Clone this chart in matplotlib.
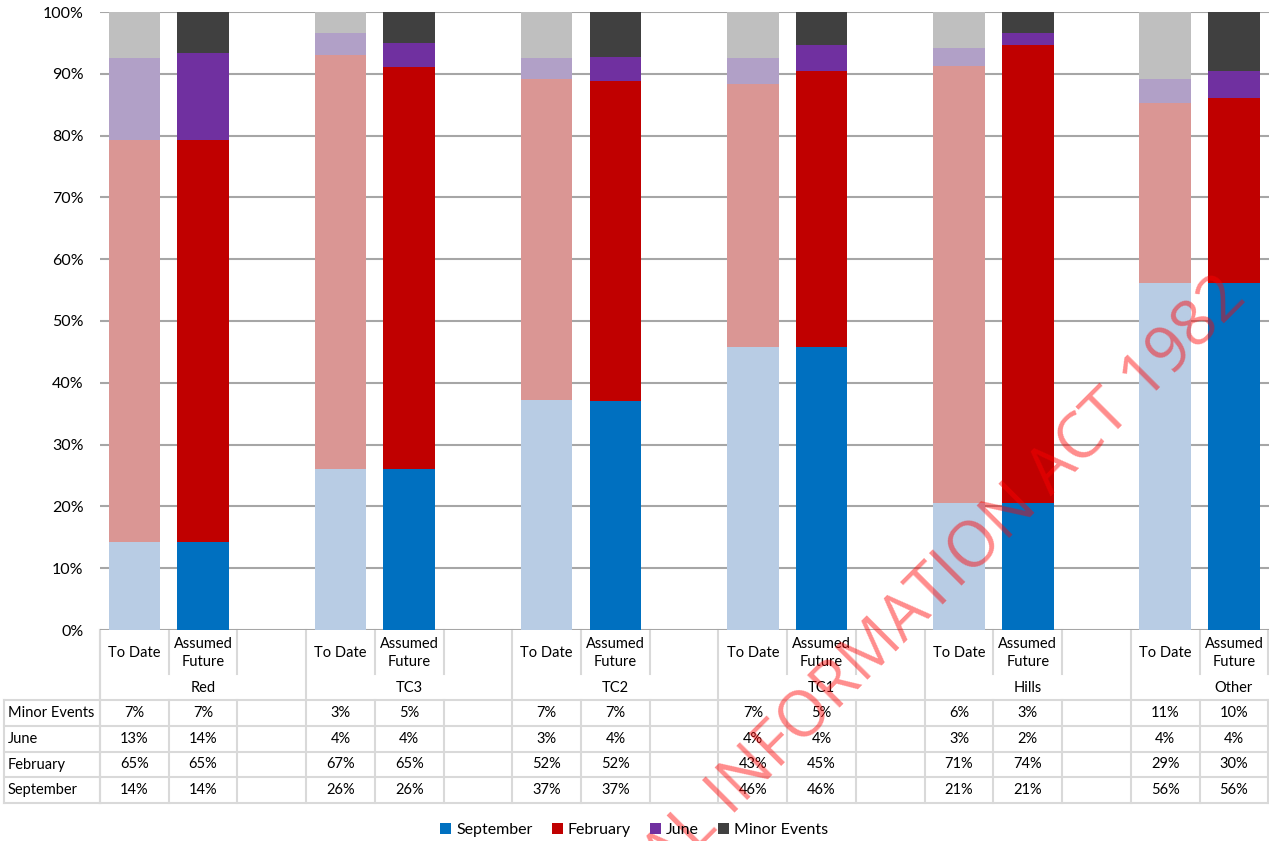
import matplotlib
matplotlib.use("Agg")
import matplotlib.pyplot as plt
from matplotlib.patches import Patch

plt.rcParams['font.family'] = ['Lato', 'DejaVu Sans']

# Data (percent shares)
groups = ["Red", "TC3", "TC2", "TC1", "Hills", "Other"]
sub_labels = ["To Date", "Assumed\nFuture"]
series = ["September", "February", "June", "Minor Events"]

september_to_date = [14.3, 26.0, 37.2, 45.8, 20.6, 56.1]
february_to_date = [65.0, 67.0, 52.0, 42.6, 70.6, 29.2]
june_to_date = [13.3, 3.6, 3.4, 4.2, 3.0, 3.9]
minor_to_date = [7.4, 3.4, 7.4, 7.4, 5.8, 10.8]

september_future = [14.3, 26.0, 37.0, 45.8, 20.6, 56.1]
february_future = [65.0, 65.1, 51.8, 44.7, 74.1, 30.0]
june_future = [14.0, 3.9, 3.9, 4.2, 1.9, 4.3]
minor_future = [6.7, 5.0, 7.3, 5.3, 3.4, 9.6]

light_colors = ["#b8cce4", "#da9694", "#b1a0c7", "#bfbfbf"]
dark_colors = ["#0070c0", "#c00000", "#7030a0", "#404040"]

W, H = 1269, 841
fig = plt.figure(figsize=(W / 100, H / 100), dpi=100)
# plot area: x from 100px, 18 columns of ~68.7px (last one is cut off), y 12px..630px
ax = fig.add_axes([100 / W, (H - 630) / H, 1237 / W, 618 / H])
px_x = 1237 / 18
px_y = 6.18

to_date = [september_to_date, february_to_date, june_to_date, minor_to_date]
future = [september_future, february_future, june_future, minor_future]

for gi in range(len(groups)):
    for k, (vals, cols) in enumerate([(to_date, light_colors), (future, dark_colors)]):
        x = 3 * gi + 0.5 + k
        bottom = 0
        for si in range(len(series)):
            ax.bar(x, vals[si][gi], bottom=bottom, width=0.75, color=cols[si], zorder=3)
            bottom += vals[si][gi]

ax.set_xlim(0, 18)
ax.set_ylim(0, 100)
ax.set_yticks(range(0, 101, 10))
ax.set_yticklabels([f"{v}%" for v in range(0, 101, 10)], fontsize=11.5)
ax.tick_params(axis="y", length=0, pad=12)
ax.set_xticks([])
ax.grid(axis="y", color="#a6a6a6", linewidth=1.5, zorder=0)
for s in ax.spines.values():
    s.set_visible(False)


def py(p):
    # pixel row -> data y
    return (630 - p) / px_y


def pxx(p):
    # pixel column -> data x
    return (p - 100) / px_x


grid_kw = dict(color="#d9d9d9", linewidth=1.5, clip_on=False, zorder=1)
rows_px = [700, 726, 752, 777, 803]
left = pxx(4)

# table lines
ax.plot([0, 0], [py(630), py(803)], **grid_kw)
for gi in range(len(groups) + 1):
    ax.plot([3 * gi, 3 * gi], [py(630), py(803)], **grid_kw)
    if gi < len(groups):
        for k in (1, 2):
            ax.plot([3 * gi + k] * 2, [py(630), py(674)], **grid_kw)
            ax.plot([3 * gi + k] * 2, [py(700), py(803)], **grid_kw)
ax.plot([left, left], [py(700), py(803)], **grid_kw)
for r in rows_px:
    ax.plot([left, 18], [py(r), py(r)], **grid_kw)

for gi, g in enumerate(groups):
    for k, lab in enumerate(sub_labels):
        ax.text(3 * gi + 0.5 + k, py(653), lab, ha="center", va="center",
                fontsize=10.5, linespacing=1.45, clip_on=False)
    ax.text(3 * gi + 1.5, py(688), g, ha="center", va="center", fontsize=10.5, clip_on=False)

table_rows = [("Minor Events", minor_to_date, minor_future),
              ("June", june_to_date, june_future),
              ("February", february_to_date, february_future),
              ("September", september_to_date, september_future)]
for ri, (name, td, fu) in enumerate(table_rows):
    yc = py((rows_px[ri] + rows_px[ri + 1]) / 2)
    ax.text(pxx(8), yc, name, ha="left", va="center", fontsize=10.5, clip_on=False)
    for gi in range(len(groups)):
        ax.text(3 * gi + 0.5, yc, f"{td[gi]:.0f}%", ha="center", va="center",
                fontsize=10.5, clip_on=False)
        ax.text(3 * gi + 1.5, yc, f"{fu[gi]:.0f}%", ha="center", va="center",
                fontsize=10.5, clip_on=False)

handles = [Patch(facecolor=c, edgecolor="none") for c in dark_colors]
fig.legend(handles, series, loc="center", bbox_to_anchor=(634 / W, 1 - 830 / H),
           ncol=4, frameon=False, fontsize=11.5, handlelength=0.7, handleheight=0.7,
           handletextpad=0.3, columnspacing=1.2)

# watermark
fig.text(1248 / W, 1 - 300 / H, "RELEASED UNDER THE OFFICIAL INFORMATION ACT 1982",
         rotation=45, rotation_mode="anchor", ha="right", va="baseline",
         fontsize=46, color="red", alpha=0.45, family="Open Sans")

fig.savefig("out.png", dpi=100)
